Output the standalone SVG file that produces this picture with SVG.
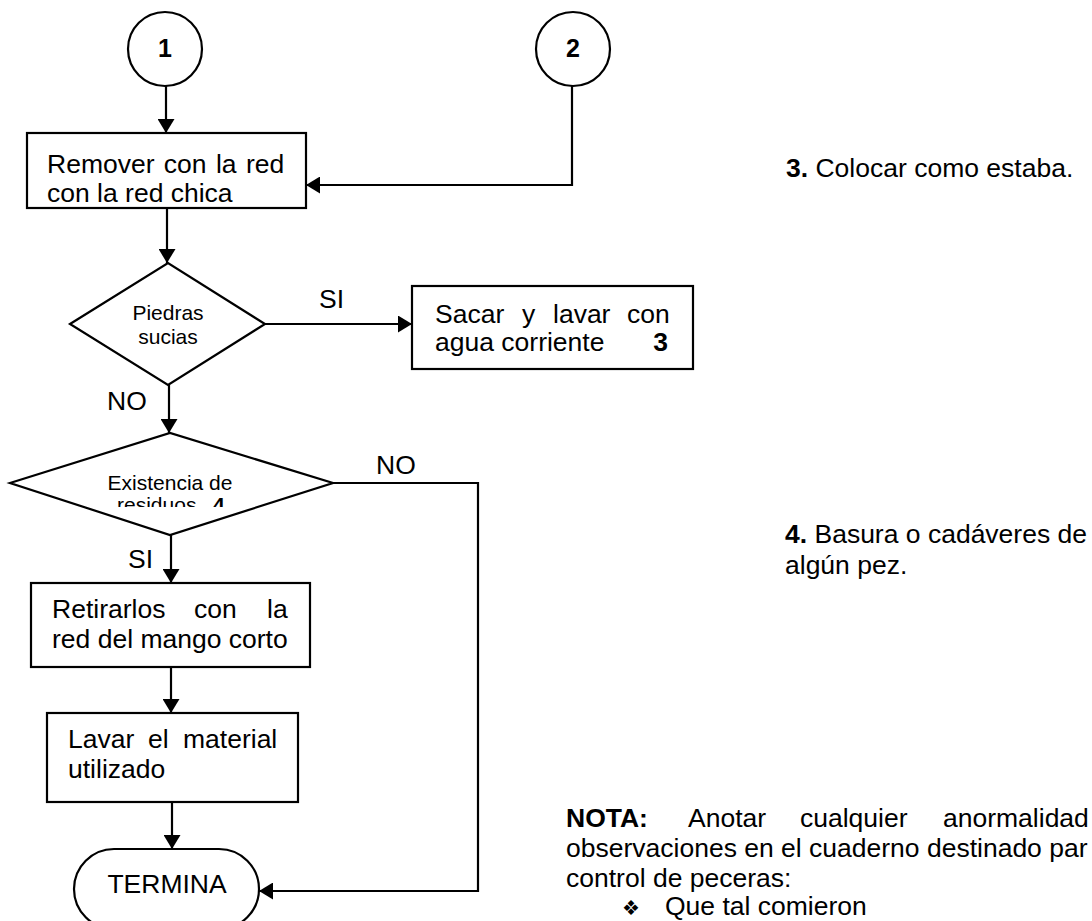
<svg xmlns="http://www.w3.org/2000/svg" width="1092" height="921" viewBox="0 0 1092 921">
<style>
  .shape { fill: #ffffff; stroke: #000000; stroke-width: 2.2; }
  .conn { fill: none; stroke: #000000; stroke-width: 2.2; }
  text { font-family: "Liberation Sans", Arial, sans-serif; fill: #000000; }
  .t { font-size: 26.5px; }
  .s { font-size: 21px; }
  .b { font-weight: bold; }
</style>
<defs>
  <marker id="arr" markerUnits="userSpaceOnUse" markerWidth="16" markerHeight="17" refX="14" refY="8.5" orient="auto">
    <path d="M0,0 L14,8.5 L0,17 z" fill="#000000"/>
  </marker>
  <clipPath id="clipRes">
    <rect x="0" y="440" width="340" height="67"/>
  </clipPath>
</defs>
<rect width="1092" height="921" fill="#ffffff"/>

<g id="connectors">
  <line class="conn" x1="166" y1="86" x2="166" y2="133" marker-end="url(#arr)"/>
  <polyline class="conn" points="572,86 572,185 306,185" marker-end="url(#arr)"/>
  <line class="conn" x1="167" y1="208" x2="167" y2="263" marker-end="url(#arr)"/>
  <line class="conn" x1="265" y1="324" x2="412" y2="324" marker-end="url(#arr)"/>
  <line class="conn" x1="169" y1="385" x2="169" y2="433" marker-end="url(#arr)"/>
  <line class="conn" x1="171" y1="535" x2="171" y2="583" marker-end="url(#arr)"/>
  <line class="conn" x1="171" y1="667" x2="171" y2="713" marker-end="url(#arr)"/>
  <line class="conn" x1="172" y1="802" x2="172" y2="849" marker-end="url(#arr)"/>
  <polyline class="conn" points="333,483 478,483 478,891 259,891" marker-end="url(#arr)"/>
  <text class="t" x="319" y="308">SI</text>
  <text class="t" x="107" y="410">NO</text>
  <text class="t" x="376" y="474">NO</text>
  <text class="t" x="128" y="568">SI</text>
</g>

<g id="c1">
  <circle class="shape" cx="165" cy="49" r="37"/>
  <text class="b" x="165" y="57" font-size="25" text-anchor="middle">1</text>
</g>

<g id="c2">
  <circle class="shape" cx="573" cy="49" r="37"/>
  <text class="b" x="573" y="57" font-size="25" text-anchor="middle">2</text>
</g>

<g id="remover">
  <rect class="shape" x="27" y="133" width="279" height="75"/>
  <text class="t" x="47" y="173" word-spacing="2">Remover con la red</text>
  <text class="t" x="47" y="202">con la red chica</text>
</g>

<g id="piedras">
  <polygon class="shape" points="70,324 168,263 265,324 168,385"/>
  <text class="s" x="168" y="320" text-anchor="middle">Piedras</text>
  <text class="s" x="168" y="344" text-anchor="middle">sucias</text>
</g>

<g id="sacar">
  <rect class="shape" x="412" y="286" width="281" height="83"/>
  <text class="t" y="323"><tspan x="435">Sacar</tspan><tspan x="522">y</tspan><tspan x="553">lavar</tspan><tspan x="627">con</tspan></text>
  <text class="t" x="435" y="351">agua corriente</text>
  <text class="t b" x="668" y="351" text-anchor="end">3</text>
</g>

<g id="existencia">
  <polygon class="shape" points="10,483 170,433 333,483 170,535"/>
  <text class="s" x="170" y="490" text-anchor="middle">Existencia de</text>
  <g clip-path="url(#clipRes)">
    <text class="s" x="117" y="512">residuos</text>
    <text class="s b" x="213" y="512">4</text>
  </g>
</g>

<g id="retirarlos">
  <rect class="shape" x="31" y="583" width="279" height="84"/>
  <text class="t" y="618"><tspan x="52">Retirarlos</tspan><tspan x="194">con</tspan><tspan x="267">la</tspan></text>
  <text class="t" x="52" y="648">red del mango corto</text>
</g>

<g id="lavar">
  <rect class="shape" x="47" y="713" width="251" height="89"/>
  <text class="t" y="748"><tspan x="68">Lavar</tspan><tspan x="148">el</tspan><tspan x="183">material</tspan></text>
  <text class="t" x="68" y="778">utilizado</text>
</g>

<g id="termina">
  <rect class="shape" x="74" y="849" width="185" height="80" rx="40" ry="40"/>
  <text class="t" x="167" y="893" text-anchor="middle">TERMINA</text>
</g>

<g id="notes">
  <text class="t" x="786" y="177"><tspan class="b">3.</tspan> Colocar como estaba.</text>
  <text class="t" x="785" y="543"><tspan class="b">4.</tspan> Basura o cadáveres de</text>
  <text class="t" x="785" y="574">algún pez.</text>
  <text class="t" y="827"><tspan class="b" x="566">NOTA:</tspan><tspan x="688">Anotar</tspan><tspan x="800">cualquier</tspan><tspan x="943">anormalidad</tspan></text>
  <text class="t" x="566" y="857">observaciones en el cuaderno destinado par</text>
  <text class="t" x="566" y="887">control de peceras:</text>
  <text x="622" y="915" font-size="20">❖</text>
  <text class="t" x="665" y="915">Que tal comieron</text>
</g>
</svg>
